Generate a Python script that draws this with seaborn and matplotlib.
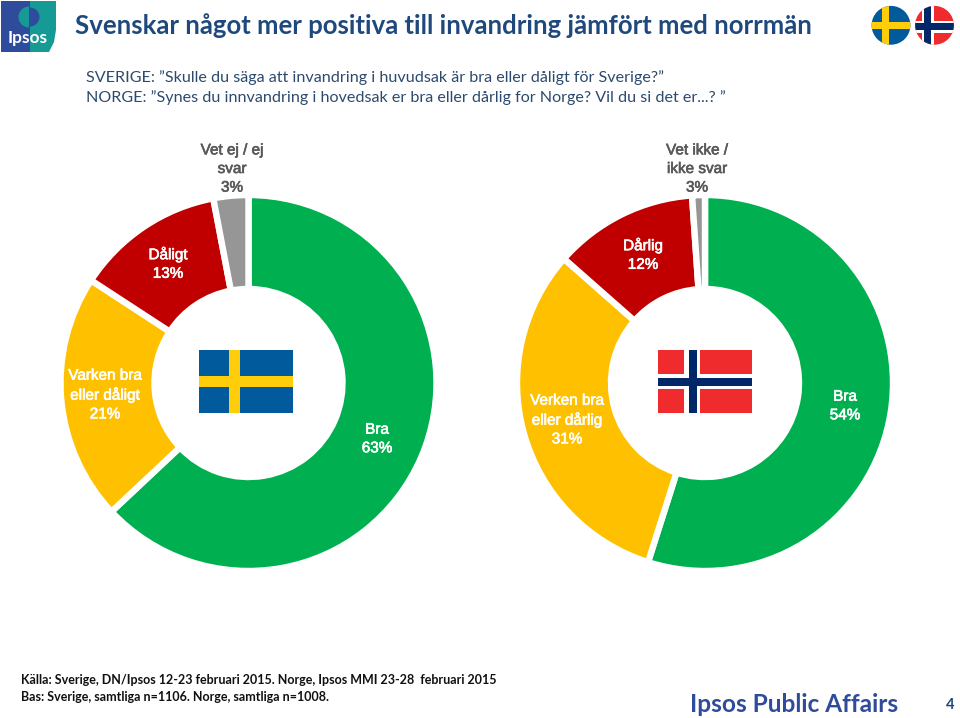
import matplotlib
matplotlib.use("Agg")
import matplotlib.pyplot as plt
import matplotlib.patheffects as pe
from matplotlib.patches import Rectangle, Circle, Polygon, Wedge
import seaborn as sns

sns.set_theme(style="white")

SEGMENT_COLORS = ["#00B050", "#FFC000", "#C00000", "#969696"]
LABEL_COLORS = ["white", "white", "white", "#595959"]
SWEDEN_VALUES = [63, 21.2, 12.8, 3]
NORWAY_VALUES = [54.9, 31.6, 12.4, 1.1]
SWEDEN_LABELS = ["Bra\n63%", "Varken bra\neller dåligt\n21%", "Dåligt\n13%", "Vet ej / ej\nsvar\n3%"]
NORWAY_LABELS = ["Bra\n54%", "Verken bra\neller dårlig\n31%", "Dårlig\n12%", "Vet ikke /\nikke svar\n3%"]
SWEDEN_LABEL_POS = [(377, 439), (105, 395), (168, 264), (232, 169)]
NORWAY_LABEL_POS = [(845, 406), (567, 420), (643, 255), (697, 169)]

TITLE = "Svenskar något mer positiva till invandring jämfört med norrmän"
QUESTION_SE = "SVERIGE: ”Skulle du säga att invandring i huvudsak är bra eller dåligt för Sverige?”"
QUESTION_NO = "NORGE: ”Synes du innvandring i hovedsak er bra eller dårlig for Norge? Vil du si det er...? ”"
SOURCE_1 = "Källa: Sverige, DN/Ipsos 12-23 februari 2015. Norge, Ipsos MMI 23-28  februari 2015"
SOURCE_2 = "Bas: Sverige, samtliga n=1106. Norge, samtliga n=1008."

W, H = 960, 718
fig = plt.figure(figsize=(W / 100, H / 100), dpi=100, facecolor="white")


def donut(values, cx, cy, r, hole):
    ax = fig.add_axes([(cx - r) / W, 1 - (cy + r) / H, 2 * r / W, 2 * r / H])
    ax.pie(values, colors=sns.color_palette(SEGMENT_COLORS), startangle=90, counterclock=False,
           radius=1, wedgeprops=dict(width=1 - hole / r, edgecolor="white", linewidth=4.6))
    ax.set_xlim(-1.0, 1.0)
    ax.set_ylim(-1.0, 1.0)
    ax.set_aspect("equal")
    ax.axis("off")


donut(SWEDEN_VALUES, 248.5, 383, 188, 94)
donut(NORWAY_VALUES, 705, 383, 188, 94)

ov = fig.add_axes([0, 0, 1, 1], zorder=5)
ov.set_xlim(0, W)
ov.set_ylim(H, 0)
ov.axis("off")
ov.patch.set_alpha(0)

NAVY = "#1F497D"
SE_BLUE, SE_YEL = "#005A9C", "#FFCD0A"
NO_RED, NO_BLUE = "#EF2B2D", "#002868"


def add_rects(rects, clip=None):
    for (x, y, w, h, c) in rects:
        p = Rectangle((x, y), w, h, fc=c, lw=0)
        ov.add_patch(p)
        if clip is not None:
            p.set_clip_path(clip)


add_rects([(199, 350, 94, 63, SE_BLUE),
           (228.5, 350, 11, 63, SE_YEL),
           (199, 376, 94, 11, SE_YEL)])
add_rects([(658, 350, 94, 63, NO_RED),
           (684, 350, 16, 63, "white"),
           (658, 373.5, 94, 15.5, "white"),
           (688.5, 350, 8, 63, NO_BLUE),
           (658, 378, 94, 7.5, NO_BLUE)])

c1 = Circle((891, 25.3), 19.4, fc="none", lw=0)
ov.add_patch(c1)
add_rects([(870, 4, 42, 42, SE_BLUE),
           (882, 4, 7, 42, SE_YEL),
           (870, 22, 42, 7, SE_YEL)], clip=c1)
c2 = Circle((934.5, 25.3), 19.4, fc="none", lw=0)
ov.add_patch(c2)
add_rects([(914, 4, 42, 42, NO_RED),
           (921.5, 4, 12, 42, "white"),
           (914, 20.5, 42, 12, "white"),
           (924, 4, 7, 42, NO_BLUE),
           (914, 23, 42, 7, NO_BLUE)], clip=c2)

# logo
ov.add_patch(Polygon([(1, 1), (30, 1), (30, 52), (1, 52)], fc="#2F4B9B", lw=0))
ov.add_patch(Polygon([(30, 1), (56, 1), (56, 30), (54, 42), (49, 52), (30, 52)], fc="#159A96", lw=0))
ov.add_patch(Wedge((29, 17), 10.5, 90, 270, fc="#159A96", lw=0))
ov.add_patch(Wedge((30, 17), 9.5, 270, 90, fc="#2F4B9B", lw=0))
ov.text(27.5, 38, "Ipsos", color="white", fontsize=12.5, fontweight="bold", family="Lato", ha="center", va="center")

ov.text(75, 26, TITLE, color=NAVY, fontsize=18.55, fontweight="bold", family="Lato", va="center")
ov.text(86, 78, QUESTION_SE, color="#2C4A6E", fontsize=11.6, family="Lato", va="center")
ov.text(86, 98, QUESTION_NO, color="#2C4A6E", fontsize=11.6, family="Lato", va="center")

for labels, positions in [(SWEDEN_LABELS, SWEDEN_LABEL_POS), (NORWAY_LABELS, NORWAY_LABEL_POS)]:
    for lab, (x, y), col in zip(labels, positions, LABEL_COLORS):
        t = ov.text(x, y, lab, color=col, fontsize=11, family="Liberation Sans",
                    ha="center", va="center", linespacing=1.42)
        t.set_path_effects([pe.withStroke(linewidth=0.45, foreground=col)])

ov.text(21, 680, SOURCE_1, color="#111111", fontsize=9.03, fontweight="bold", family="Lato", va="center")
ov.text(21, 697, SOURCE_2, color="#111111", fontsize=9.03, fontweight="bold", family="Lato", va="center")
ov.text(794, 704, "Ipsos Public Affairs", color="#2F4B9B", fontsize=17.6, fontweight="bold", family="Lato", ha="center", va="center")
ov.text(950, 705, "4", color=NAVY, fontsize=10.5, fontweight="bold", family="Lato", ha="center", va="center")

fig.savefig("out.png", dpi=100, facecolor="white")
